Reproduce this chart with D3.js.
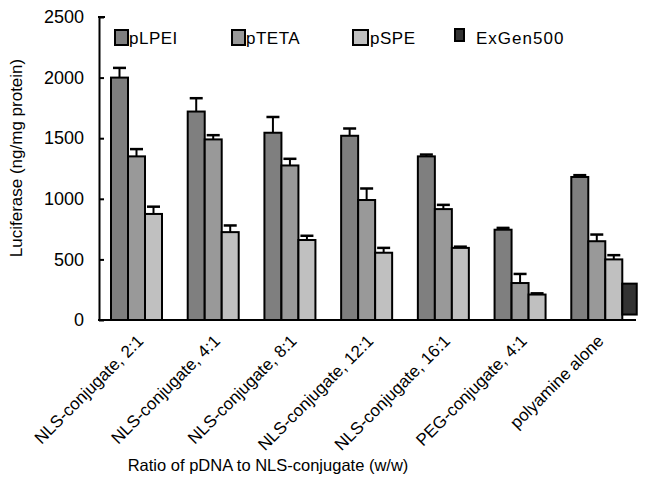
<!DOCTYPE html>
<html><head><meta charset="utf-8">
<script src="https://cdn.jsdelivr.net/npm/d3@7"></script>
<style>body{margin:0;background:#fff}svg{display:block}text{font-family:"Liberation Sans",Arial,sans-serif;fill:#000}</style>
</head><body><svg id="c" width="646" height="485"></svg>
<script>
const categories = ["NLS-conjugate, 2:1","NLS-conjugate, 4:1","NLS-conjugate, 8:1","NLS-conjugate, 12:1","NLS-conjugate, 16:1","PEG-conjugate, 4:1","polyamine alone"];
const series = ["pLPEI","pTETA","pSPE","ExGen500"];
const pLPEI = [2000,1720,1545,1520,1350,745,1180];
const pLPEIerr = [80,110,130,60,15,15,15];
const pTETA = [1350,1490,1275,990,915,305,650];
const pTETAerr = [60,35,55,95,35,75,55];
const pSPE = [875,725,660,555,595,210,500];
const pSPEerr = [60,55,35,40,10,10,35];
const exgenRange = [45,300]; // only for "polyamine alone"
const yTicks = [0,500,1000,1500,2000,2500];
const colors = {pLPEI:"#7f7f7f",pTETA:"#999999",pSPE:"#c0c0c0",ExGen500:"#333333"};

const svg = d3.select("#c");
const y = d3.scaleLinear().domain([0,2500]).range([320,17]);
const x0 = d3.scaleBand().domain(categories).range([99,636]);
const x1 = d3.scaleBand().domain(series).range([12,80]);

const vals = {pLPEI, pTETA, pSPE};
const errs = {pLPEI:pLPEIerr, pTETA:pTETAerr, pSPE:pSPEerr};
const data = [];
["pLPEI","pTETA","pSPE"].forEach(s=>categories.forEach((c,i)=>data.push({c,s,v:vals[s][i],e:errs[s][i]})));

const g = svg.append("g");
g.selectAll("g.err").data(data).join("g").attr("class","err").each(function(d){
  const cx = x0(d.c)+x1(d.s)+x1.bandwidth()/2;
  const sel = d3.select(this);
  sel.append("line").attr("x1",cx).attr("x2",cx).attr("y1",y(d.v)).attr("y2",y(d.v+d.e)).attr("stroke","#000").attr("stroke-width",2);
  sel.append("line").attr("x1",cx-6.5).attr("x2",cx+6.5).attr("y1",y(d.v+d.e)).attr("y2",y(d.v+d.e)).attr("stroke","#000").attr("stroke-width",2.5);
});
g.selectAll("rect.bar").data(data).join("rect").attr("class","bar")
  .attr("x",d=>x0(d.c)+x1(d.s)).attr("width",x1.bandwidth())
  .attr("y",d=>y(d.v)).attr("height",d=>y(0)-y(d.v))
  .attr("fill",d=>colors[d.s]).attr("stroke","#000").attr("stroke-width",2);
const lastCat = categories[categories.length-1];
g.append("rect").attr("x",x0(lastCat)+x1("ExGen500")).attr("width",x1.bandwidth()*0.85)
  .attr("y",y(exgenRange[1])).attr("height",y(exgenRange[0])-y(exgenRange[1]))
  .attr("fill",colors.ExGen500).attr("stroke","#000").attr("stroke-width",2);

const yAxis = d3.axisLeft(y).tickValues(yTicks).tickFormat(d3.format("d")).tickSizeInner(-5).tickSizeOuter(0).tickPadding(15);
const ya = svg.append("g").attr("transform","translate(99,0)").call(yAxis);
ya.select(".domain").attr("stroke-width",2);
ya.selectAll(".tick line").attr("stroke-width",2);
ya.selectAll(".tick text").attr("font-size",18).attr("font-family","Liberation Sans, Arial, sans-serif");
svg.append("line").attr("x1",98).attr("x2",105).attr("y1",y(2500)).attr("y2",y(2500)).attr("stroke","#000").attr("stroke-width",2);

const xAxis = d3.axisBottom(x0).tickSize(0).tickPadding(0);
const xa = svg.append("g").attr("transform","translate(0,320)").call(xAxis);
xa.select(".domain").attr("stroke-width",2).attr("d","M98,0H636");
xa.selectAll(".tick text").attr("font-size",17).attr("font-family","Liberation Sans, Arial, sans-serif")
  .attr("text-anchor","end").attr("dy",0).attr("y",0)
  .attr("transform","translate(7,22) rotate(-45)");

svg.append("text").attr("transform","translate(22,158) rotate(-90)").attr("text-anchor","middle")
  .attr("font-size",17).text("Luciferase (ng/mg protein)");
svg.append("text").attr("x",268).attr("y",471).attr("text-anchor","middle")
  .attr("font-size",16.5).text("Ratio of pDNA to NLS-conjugate (w/w)");

const legend = [
  {s:"pLPEI",x:115,w:13,h:15,y:30,tx:129},
  {s:"pTETA",x:232,w:13,h:15,y:30,tx:246},
  {s:"pSPE",x:353,w:15,h:15,y:30,tx:370},
  {s:"ExGen500",x:455,w:9,h:12,y:29,tx:476}
];
const lg = svg.append("g").selectAll("g").data(legend).join("g");
lg.append("rect").attr("x",d=>d.x).attr("y",d=>d.y).attr("width",d=>d.w).attr("height",d=>d.h)
  .attr("fill",d=>colors[d.s]).attr("stroke","#000").attr("stroke-width",2);
lg.append("text").attr("x",d=>d.tx).attr("y",44).attr("font-size",17)
  .attr("letter-spacing",d=>d.s==="ExGen500"?1:0.5).text(d=>d.s);
</script></body></html>
